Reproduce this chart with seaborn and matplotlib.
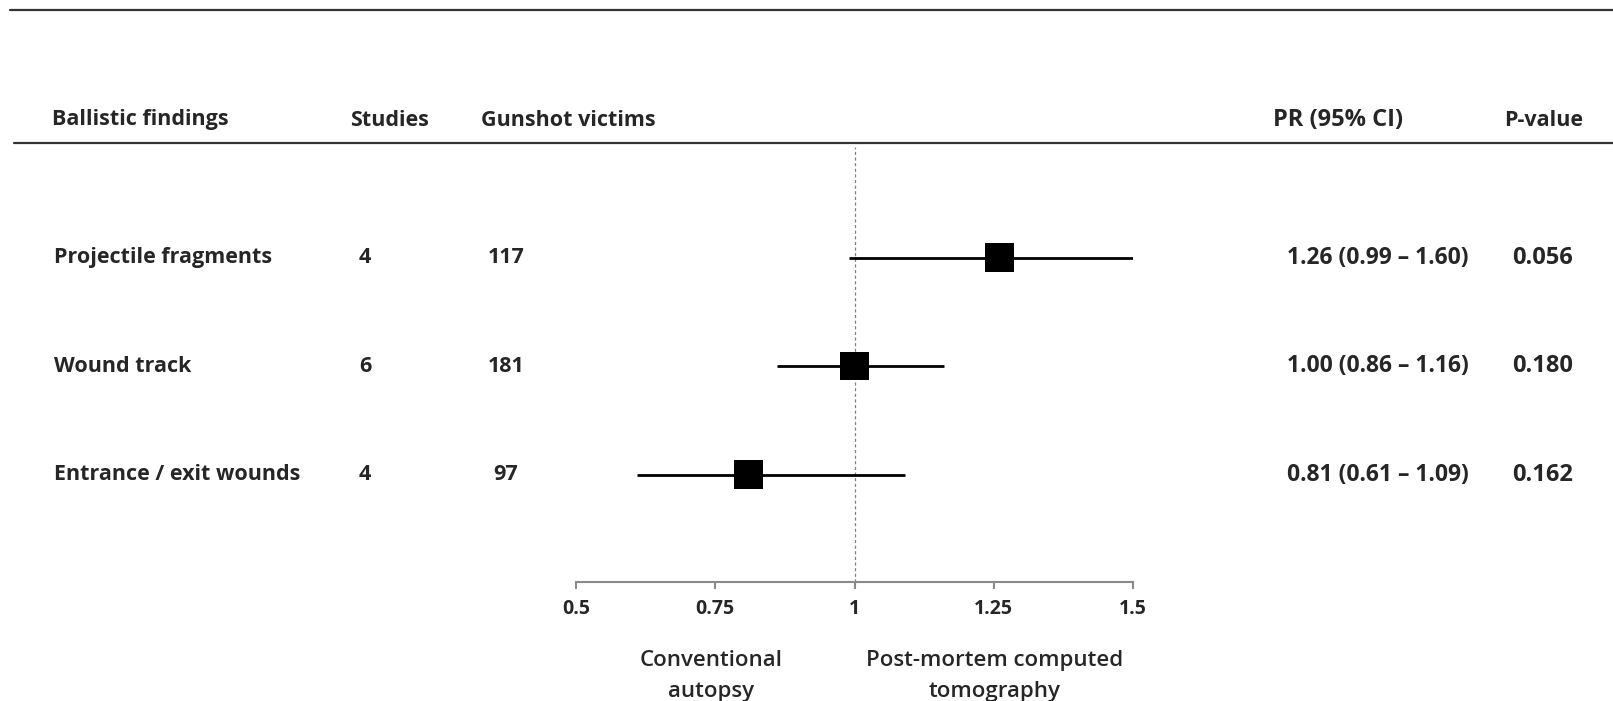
import numpy as np
import pandas as pd
import seaborn as sns
import matplotlib.pyplot as plt
from matplotlib.lines import Line2D
import matplotlib.transforms as mtransforms

# Forest plot data
findings = ['Projectile fragments', 'Wound track', 'Entrance / exit wounds']
studies = [4, 6, 4]
victims = [117, 181, 97]
pr = [1.26, 1.00, 0.81]
ci_low = [0.99, 0.86, 0.61]
ci_high = [1.60, 1.16, 1.09]
pr_text = ['1.26 (0.99 \u2013 1.60)', '1.00 (0.86 \u2013 1.16)', '0.81 (0.61 \u2013 1.09)']
p_values = ['0.056', '0.180', '0.162']
xticks = [0.5, 0.75, 1, 1.25, 1.5]
xtick_labels = ['0.5', '0.75', '1', '1.25', '1.5']

df = pd.DataFrame({'finding': findings, 'pos': np.arange(len(findings)), 'pr': pr,
                   'lo': ci_low, 'hi': ci_high})

sns.set_style('white')
plt.rcParams['font.family'] = ['Open Sans', 'DejaVu Sans']

W, H = 1613, 701
fig = plt.figure(figsize=(W / 100, H / 100), dpi=100)
ax = fig.add_axes([576 / W, 1 - 582 / H, 557 / W, (582 - 147) / H])

# confidence intervals (clipped to the axis range)
ax.hlines(df['pos'], df['lo'].clip(upper=1.5), df['hi'].clip(upper=1.5), color='black', lw=2, zorder=2)
sns.scatterplot(data=df, x='pr', y='pos', marker='s', s=420, color='black', edgecolor='none',
                ax=ax, zorder=3, legend=False)
ax.axvline(1, color='#808080', lw=0.9, ls=(0, (2.5, 2)), zorder=1)

ax.set_xlim(0.5, 1.5)
ax.set_ylim(2.99, -1.02)
ax.set_xticks(xticks)
ax.set_xticklabels(xtick_labels, fontsize=14, fontweight='bold')
ax.set_yticks([])
ax.set_xlabel('')
ax.set_ylabel('')
for s in ['top', 'right', 'left']:
    ax.spines[s].set_visible(False)
ax.spines['bottom'].set_color('#8a8a8a')
ax.spines['bottom'].set_linewidth(1.5)
ax.tick_params(axis='x', bottom=True, direction='out', length=5, width=1.5, color='#8a8a8a', pad=7)

# table text, x in figure pixels, y in data rows
tr = mtransforms.blended_transform_factory(fig.transFigure, ax.transData)
fs = 15.5
for i in range(len(findings)):
    ax.text(54 / W, i, findings[i], transform=tr, ha='left', va='center', fontsize=fs, fontweight='bold')
    ax.text(365 / W, i, str(studies[i]), transform=tr, ha='center', va='center', fontsize=fs, fontweight='bold')
    ax.text(506 / W, i, str(victims[i]), transform=tr, ha='center', va='center', fontsize=fs, fontweight='bold')
    ax.text(1287 / W, i, pr_text[i], transform=tr, ha='left', va='center', fontsize=16.5, fontweight='bold')
    ax.text(1512 / W, i, p_values[i], transform=tr, ha='left', va='center', fontsize=17, fontweight='bold')

# header
hy = 1 - 120 / H
hdr = dict(ha='left', va='center', fontsize=15.5, fontweight='bold')
fig.text(52 / W, hy, 'Ballistic findings', **hdr)
fig.text(350 / W, hy, 'Studies', **hdr)
fig.text(481 / W, hy, 'Gunshot victims', **hdr)
fig.text(1273 / W, hy, 'PR (95% CI)', **{**hdr, 'fontsize': 17})
fig.text(1504 / W, hy, 'P-value', **hdr)

# rules
fig.add_artist(Line2D([10 / W, 1], [1 - 10 / H, 1 - 10 / H], color='#333333', lw=1.6))
fig.add_artist(Line2D([14 / W, 1], [1 - 143 / H, 1 - 143 / H], color='#333333', lw=1.6))

# direction labels
fig.text(711 / W, 1 - 676 / H, 'Conventional\nautopsy', ha='center', va='center', fontsize=16,
         fontweight='semibold', linespacing=1.58)
fig.text(995 / W, 1 - 676 / H, 'Post-mortem computed\ntomography', ha='center', va='center', fontsize=16,
         fontweight='semibold', linespacing=1.58)

fig.savefig('out.png', dpi=100)
